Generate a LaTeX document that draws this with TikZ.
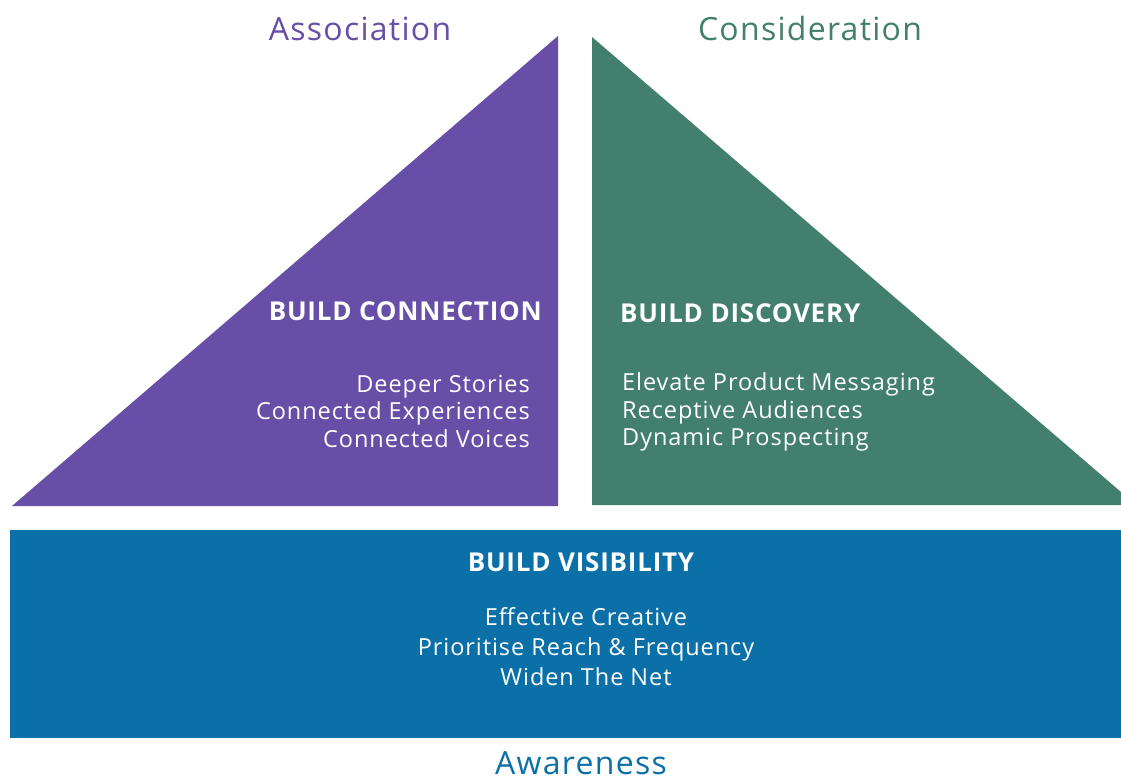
\documentclass[tikz,border=0pt]{standalone}
\usepackage{fontspec}
\setmainfont{Open Sans}[LetterSpace=4]
\newfontfamily\headfont{Open Sans}[LetterSpace=3]
\definecolor{assocpurple}{RGB}{103,78,167}
\definecolor{considgreen}{RGB}{67,127,109}
\definecolor{awareblue}{RGB}{11,112,168}
\begin{document}
\begin{tikzpicture}[x=1pt,y=-1pt,
  stage/.style={font=\fontsize{32}{36}\selectfont, inner sep=0pt},
  heading/.style={font=\headfont\fontsize{26}{28}\bfseries, text=white, inner sep=0pt},
  item/.style={font=\fontsize{23.5}{26}\selectfont, text=white, inner sep=0pt},
]
\useasboundingbox (0,0) rectangle (1121,780);
\fill[white] (0,0) rectangle (1121,780);

% stage shapes
\fill[assocpurple] (12,506) -- (558,36) -- (558,506) -- cycle;
\fill[considgreen] (592,37) -- (1121,492) -- (1121,505) -- (592,505) -- cycle;
\fill[awareblue] (10,530) rectangle (1121,738);

% stage titles
\node[stage, text=assocpurple, anchor=base] (assoc) at (360,40) {Association};
\node[stage, text=considgreen, anchor=base] (consid) at (810,40) {Consideration};
\node[stage, text=awareblue, anchor=base] (aware) at (581,774) {Awareness};

% association block
\node[heading, anchor=base east] (conn) at (542,320) {BUILD CONNECTION};
\node[item, anchor=base east] (conn1) at (530,392) {Deeper Stories};
\node[item, anchor=base east] (conn2) at (530,419) {Connected Experiences};
\node[item, anchor=base east] (conn3) at (530,447) {Connected Voices};

% consideration block
\node[heading, anchor=base west] (disc) at (620,322) {BUILD DISCOVERY};
\node[item, anchor=base west] (disc1) at (622,390) {Elevate Product Messaging};
\node[item, anchor=base west] (disc2) at (622,418) {Receptive Audiences};
\node[item, anchor=base west] (disc3) at (622,445) {Dynamic Prospecting};

% awareness block
\node[heading, anchor=base] (vis) at (581,571) {BUILD VISIBILITY};
\node[item, anchor=base] (vis1) at (586,625) {Effective Creative};
\node[item, anchor=base] (vis2) at (586,655) {Prioritise Reach \& Frequency};
\node[item, anchor=base] (vis3) at (586,685) {Widen The Net};
\end{tikzpicture}
\end{document}
